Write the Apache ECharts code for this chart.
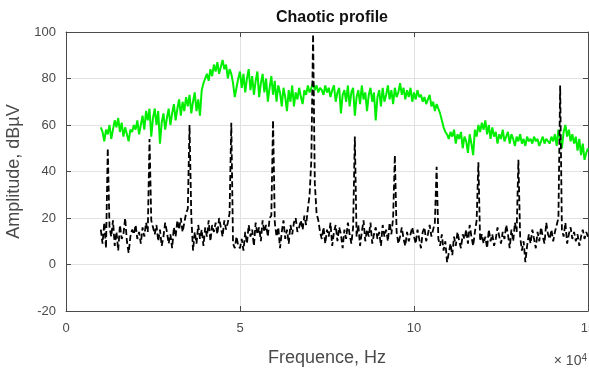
<!DOCTYPE html>
<html>
<head>
<meta charset="utf-8">
<script src="https://cdn.jsdelivr.net/npm/echarts@6/dist/echarts.min.js"></script>
<style>html,body{margin:0;padding:0;background:#fff;}#c{width:589px;height:370px;}</style>
</head>
<body>
<div id="c"></div>
<script>
// Sampling grid (x in units of 1e4 Hz)
var xStart = 1.0;
var xStep = 0.05;
var xTicks = [0, 5, 10, 15];
var yTicks = [-20, 0, 20, 40, 60, 80, 100];

// Chaotic profile (green)
var chaotic = [
  59, 57, 53, 58, 56, 60, 54, 58, 62, 59, 63, 57, 61, 55, 59, 56, 53, 58, 57, 60,
  58, 62, 56, 60, 64, 58, 66, 62, 67, 55, 63, 67, 60, 66, 52, 61, 65, 58, 63, 67,
  60, 65, 69, 62, 67, 71, 64, 70, 66, 72, 68, 73, 65, 70, 74, 66, 71, 64, 75, 78,
  80, 82, 79, 84, 81, 86, 83, 87, 82, 85, 88, 84, 86, 80, 84, 82, 78, 72, 76, 80,
  83, 76, 82, 74, 80, 84, 75, 81, 73, 79, 83, 72, 78, 82, 74, 80, 70, 76, 81, 73,
  79, 70, 77, 74, 68, 76, 72, 66, 75, 70, 77, 68, 74, 71, 76, 72, 69, 75, 73, 77,
  74, 76, 78, 75, 77, 74, 76, 75, 73, 77, 74, 76, 72, 75, 77, 70, 74, 76, 65, 73,
  75, 70, 77, 68, 74, 76, 64, 72, 75, 69, 77, 71, 74, 66, 73, 76, 70, 74, 62, 72,
  75, 68, 76, 70, 73, 77, 71, 75, 69, 76, 72, 74, 78, 73, 76, 71, 75, 72, 76, 70,
  74, 71, 75, 72, 73, 70, 72, 69, 71, 73, 68, 70, 66, 69, 67, 65, 62, 59, 57, 56,
  54, 57, 55, 58, 52, 56, 54, 57, 50, 55, 53, 48, 56, 52, 47, 58, 55, 60, 57, 61,
  58, 62, 56, 60, 54, 59, 55, 57, 52, 56, 54, 58, 53, 55, 57, 52, 56, 54, 51, 55,
  53, 56, 52, 54, 51, 55, 53, 54, 52, 55, 53, 54, 51, 53, 55, 52, 54, 53, 52, 55,
  53, 56, 51, 58, 54, 50, 57, 60, 55, 58, 53, 56, 52, 55, 49, 54, 47, 52, 45, 48,
  50
];

// Periodic profile (black dashed)
var periodic = [
  15, 9, 18, 7, 50, 16, 12, 19, 8, 14, 6, 17, 11, 13, 20, 10, 5, 12, 15, 13,
  17, 11, 14, 9, 16, 12, 18, 14, 54, 19, 16, 13, 17, 10, 15, 8, 12, 18, 14, 9,
  13, 7, 16, 12, 19, 15, 20, 14, 18, 22, 24, 60, 21, 6, 14, 9, 17, 11, 15, 8,
  16, 12, 19, 10, 17, 14, 18, 13, 20, 16, 12, 19, 15, 18, 22, 61, 9, 7, 12, 8,
  7, 11, 6, 14, 9, 17, 12, 15, 8, 18, 13, 16, 10, 19, 14, 17, 12, 20, 21, 62,
  18, 12, 16, 7, 14, 19, 11, 15, 9, 17, 13, 18, 20, 14, 16, 19, 15, 21, 17, 24,
  30, 45, 99, 35, 22, 19, 14, 11, 16, 9, 15, 12, 18, 8, 14, 17, 10, 16, 13, 7,
  15, 11, 18, 13, 9, 16, 55, 12, 17, 8, 14, 19, 10, 15, 12, 18, 9, 13, 16, 11,
  14, 8, 17, 12, 15, 10, 18, 13, 20, 47, 14, 9, 12, 16, 11, 8, 14, 10, 13, 16,
  12, 9, 15, 11, 7, 14, 16, 10, 13, 17, 12, 15, 18, 42, 11, 8, 13, 6, 10, 1,
  5, 9, 4, 12, 8, 14, 10, 7, 13, 11, 15, 9, 17, 12, 8, 14, 19, 44, 10, 13,
  9, 12, 7, 15, 10, 13, 8, 11, 16, 12, 9, 14, 11, 17, 13, 7, 15, 10, 18, 14,
  45, 12, 6, 10, 1, 8, 13, 9, 15, 11, 7, 14, 10, 16, 12, 9, 18, 13, 11, 15,
  10, 14, 17, 20, 77, 15, 12, 18, 9, 13, 16, 11, 14, 10, 13, 8, 12, 15, 11, 14,
  12
];

function pairs(vals) {
  return vals.map(function (v, i) { return [+(xStart + i * xStep).toFixed(2), v]; });
}

var chart = echarts.init(document.getElementById('c'), null, { renderer: 'canvas' });
var axisCol = '#4a4a4a';
var font = 'Liberation Sans, Arial, sans-serif';
var lineCommon = { show: true, onZero: false, lineStyle: { color: axisCol, width: 1 } };
var tickCommon = { show: true, inside: true, length: 5, lineStyle: { color: axisCol } };
chart.setOption({
  animation: false,
  backgroundColor: '#fff',
  title: {
    text: 'Chaotic profile',
    left: 327, top: 5, textAlign: 'center',
    textStyle: { fontFamily: font, fontSize: 16, fontWeight: 'bold', color: '#111' }
  },
  grid: { left: 66, right: 1, top: 32, bottom: 59, containLabel: false, outerBoundsMode: 'none' },
  xAxis: [{
    type: 'value', min: 0, max: 15, interval: 5, position: 'bottom',
    name: 'Frequence, Hz', nameLocation: 'middle', nameGap: 38,
    nameTextStyle: { fontFamily: font, fontSize: 18, color: axisCol },
    axisLine: lineCommon, axisTick: tickCommon,
    axisLabel: { fontFamily: font, fontSize: 13, color: axisCol, margin: 11, hideOverlap: false, showMaxLabel: true },
    splitLine: { show: true, lineStyle: { color: '#e2e2e2', width: 1 } }
  }, {
    type: 'value', min: 0, max: 15, interval: 5, position: 'top',
    axisLine: lineCommon, axisTick: tickCommon,
    axisLabel: { show: false }, splitLine: { show: false }
  }],
  yAxis: [{
    type: 'value', min: -20, max: 100, interval: 20, position: 'left',
    name: 'Amplitude, dBµV', nameLocation: 'middle', nameGap: 32,
    nameTextStyle: { fontFamily: font, fontSize: 18, color: axisCol },
    axisLine: lineCommon, axisTick: tickCommon,
    axisLabel: { fontFamily: font, fontSize: 13, color: axisCol, margin: 10 },
    splitLine: { show: true, lineStyle: { color: '#e2e2e2', width: 1 } }
  }, {
    type: 'value', min: -20, max: 100, interval: 20, position: 'right',
    axisLine: lineCommon, axisTick: tickCommon,
    axisLabel: { show: false }, splitLine: { show: false }
  }],
  graphic: [{
    type: 'text', right: 2, top: 353,
    style: {
      text: '× 10{s|4}', fontFamily: font, fontSize: 14, fill: axisCol,
      rich: { s: { fontSize: 10, verticalAlign: 'top', padding: [0, 0, 7, 0], fill: axisCol } }
    }
  }],
  series: [{
    type: 'line', name: 'Chaotic', data: pairs(chaotic), showSymbol: false,
    lineStyle: { color: '#00ee00', width: 2 }, z: 2
  }, {
    type: 'line', name: 'Periodic', data: pairs(periodic), showSymbol: false,
    lineStyle: { color: '#000', width: 1.8, type: [6, 3] }, z: 3
  }]
});
</script>
</body>
</html>
